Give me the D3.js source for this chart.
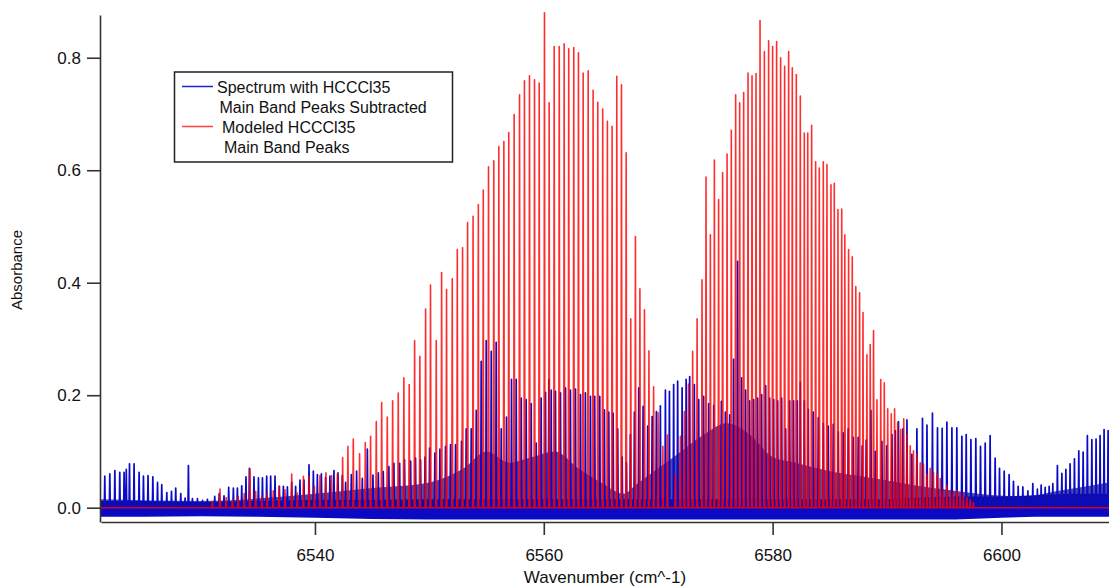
<!DOCTYPE html>
<html>
<head>
<meta charset="utf-8">
<script src="https://cdn.jsdelivr.net/npm/d3@7"></script>
<style>
  body { margin: 0; background: #fff; }
  svg text { font-family: "Liberation Sans", Arial, Helvetica, sans-serif; fill: #111; }
</style>
</head>
<body>
<svg id="spec" width="1109" height="586"></svg>
<script>
// modeled HCCCl35 main band (stick lines), wavenumber / absorbance
var redPos = [6531.04,6531.70,6532.24,6532.79,6533.29,6533.82,6534.32,6534.82,6535.35,6535.83,6536.35,6536.86,6537.38,6537.97,6538.46,6538.99,6539.48,6539.95,6540.44,6540.96,6541.46,6541.96,6542.42,6542.88,6543.35,6543.90,6544.40,6544.86,6545.36,6545.83,6546.32,6546.79,6547.28,6547.77,6548.24,6548.71,6549.17,6549.67,6550.10,6550.60,6551.07,6551.50,6552.00,6552.44,6552.90,6553.34,6553.82,6554.28,6554.71,6555.17,6555.63,6556.07,6556.51,6556.94,6557.41,6557.88,6558.31,6558.75,6559.19,6559.60,6560.06,6560.47,6560.91,6561.35,6561.78,6562.18,6562.62,6563.03,6563.44,6563.88,6564.31,6564.72,6565.15,6565.56,6565.97,6566.38,6566.79,6567.20,6567.60,6568.01,6568.40,6568.80,6569.19,6569.60,6569.99,6570.41,6570.80,
  6571.50,6571.94,6572.29,6572.64,6573.01,6573.40,6573.83,6574.18,6574.56,6574.91,6575.28,6575.63,6576.02,6576.39,6576.77,6577.12,6577.47,6577.85,6578.20,6578.55,6578.90,6579.28,6579.65,6580.00,6580.35,6580.70,6581.05,6581.40,6581.72,6582.07,6582.42,6582.77,6583.07,6583.41,6583.76,6584.08,6584.43,6584.75,6585.10,6585.39,6585.71,6586.04,6586.31,6586.64,6586.96,6587.27,6587.60,6587.90,6588.24,6588.53,6588.82,6589.12,6589.45,6589.76,6590.06,6590.37,6590.66,6590.93,6591.20,6591.46,6591.74,6592.03,6592.31,6592.61,6592.90,6593.19,6593.49,6593.77,6594.06,6594.36,6594.65,6594.93,6595.23,6595.52,6595.81,6596.10,6596.39,6596.68,6596.98,6597.27,6597.55];
var redAbs = [0.011,0.033,0.018,0.014,0.020,0.025,0.069,0.029,0.020,0.025,0.030,0.038,0.032,0.060,0.026,0.056,0.056,0.038,0.057,0.062,0.057,0.060,0.089,0.109,0.122,0.096,0.116,0.127,0.153,0.187,0.161,0.190,0.204,0.231,0.219,0.297,0.269,0.353,0.396,0.297,0.418,0.388,0.407,0.459,0.462,0.507,0.518,0.539,0.565,0.606,0.617,0.642,0.651,0.667,0.699,0.734,0.759,0.768,0.761,0.755,0.880,0.720,0.820,0.820,0.825,0.816,0.818,0.809,0.773,0.777,0.742,0.721,0.709,0.687,0.678,0.767,0.752,0.631,0.336,0.482,0.389,0.352,0.279,0.215,0.169,0.109,0.129,
  0.059,0.127,0.171,0.220,0.278,0.336,0.405,0.588,0.485,0.618,0.548,0.596,0.629,0.671,0.734,0.720,0.738,0.773,0.768,0.772,0.866,0.811,0.830,0.820,0.829,0.800,0.785,0.811,0.782,0.770,0.732,0.666,0.666,0.680,0.615,0.604,0.615,0.610,0.574,0.577,0.530,0.531,0.485,0.459,0.446,0.393,0.382,0.347,0.272,0.290,0.315,0.192,0.228,0.222,0.176,0.167,0.176,0.151,0.139,0.158,0.130,0.110,0.101,0.095,0.080,0.077,0.059,0.070,0.062,0.061,0.052,0.032,0.040,0.030,0.028,0.030,0.027,0.022,0.018,0.014,0.009];

// measured spectrum with main band peaks subtracted
var bluePos = [6521.63,6522.07,6522.51,6522.94,6523.32,6523.51,6523.79,6524.19,6524.63,6525.01,6525.41,6525.83,6526.24,6526.61,6527.05,6527.46,6527.83,6528.27,6528.65,6528.94,6529.29,6529.73,6530.17,6530.60,6531.24,6531.63,6532.05,6532.46,6532.87,6533.22,6533.60,6533.97,6534.27,6534.67,6535.06,6535.41,6535.78,6536.13,6536.51,6536.89,6537.24,6537.59,6537.97,6538.31,6538.69,6539.04,6539.48,6539.86,6540.21,6540.56,6540.93,6541.31,6541.66,6542.01,6542.39,6542.68,6543.18,6543.64,6544.14,6544.58,6545.07,6545.54,6545.97,6546.46,6546.90,6547.40,6547.83,6548.36,6548.79,6549.23,6549.62,6550.02,6550.48,6550.92,6551.41,6551.85,6552.29,6552.81,6553.22,6553.66,6554.10,6554.53,6554.97,6555.41,6555.84,6556.28,6556.74,6557.18,6557.59,6558.03,6558.46,6558.90,6559.34,6559.77,6560.15,6560.44,6560.65,6561.02,6561.46,6561.90,6562.33,6562.77,6563.21,6563.64,6564.08,6564.45,6564.89,6565.30,6565.68,6566.06,6566.46,6566.85,6567.22,6567.57,6567.92,6568.30,6568.68,6569.08,6569.47,6569.84,6570.19,6570.63,6570.98,6571.35,6571.70,6572.09,6572.44,6572.75,6573.16,6573.54,6573.97,6574.41,6574.85,6575.52,6575.87,6576.25,6576.59,6576.94,6577.29,6577.64,6577.99,6578.34,6578.69,6579.04,6579.39,6579.74,6580.09,6580.44,6580.79,6581.14,6581.49,6581.83,6582.16,6582.42,6582.77,6583.12,6583.55,6583.99,6584.43,6584.86,6585.30,6585.74,6586.17,6586.61,6587.05,6587.48,6587.83,6588.18,6588.59,6588.97,6589.55,6589.97,6590.43,6590.72,6591.00,6591.39,6591.74,6592.17,6592.61,6593.10,6593.49,6593.97,6594.41,6594.82,6595.23,6595.67,6596.10,6596.54,6596.92,6597.33,6597.76,6598.17,6598.58,6599.01,6599.45,6599.83,6600.24,6600.67,6601.05,6601.46,6601.87,6602.31,6602.74,6603.14,6603.47,6603.82,6604.17,6604.49,6604.89,6605.28,6605.63,6606.00,6606.38,6606.76,6607.14,6607.51,6607.90,6608.27,6608.62,6608.97,6609.32];
var blueAbs = [0.056,0.060,0.066,0.063,0.063,0.068,0.078,0.078,0.063,0.056,0.057,0.055,0.045,0.041,0.027,0.029,0.035,0.025,0.017,0.075,0.016,0.016,0.013,0.015,0.020,0.025,0.021,0.036,0.035,0.035,0.039,0.055,0.070,0.055,0.053,0.053,0.056,0.056,0.056,0.038,0.038,0.037,0.045,0.038,0.049,0.049,0.076,0.065,0.059,0.060,0.054,0.056,0.066,0.062,0.057,0.045,0.059,0.065,0.052,0.104,0.058,0.062,0.064,0.073,0.079,0.079,0.085,0.083,0.088,0.085,0.090,0.106,0.097,0.104,0.109,0.112,0.112,0.118,0.140,0.140,0.173,0.260,0.297,0.278,0.294,0.140,0.161,0.228,0.228,0.195,0.192,0.185,0.115,0.195,0.205,0.228,0.209,0.207,0.204,0.213,0.209,0.211,0.201,0.204,0.198,0.198,0.198,0.174,0.170,0.168,0.140,0.090,0.080,0.130,0.170,0.213,0.180,0.145,0.162,0.171,0.181,0.209,0.207,0.219,0.225,0.213,0.228,0.233,0.219,0.192,0.198,0.185,0.182,0.189,0.170,0.165,0.264,0.438,0.231,0.209,0.190,0.192,0.195,0.201,0.217,0.195,0.192,0.190,0.195,0.140,0.190,0.190,0.190,0.223,0.190,0.175,0.170,0.160,0.150,0.145,0.148,0.135,0.133,0.140,0.125,0.125,0.110,0.120,0.173,0.100,0.118,0.110,0.130,0.137,0.153,0.140,0.156,0.095,0.140,0.159,0.147,0.168,0.142,0.141,0.152,0.142,0.142,0.127,0.130,0.121,0.123,0.109,0.115,0.128,0.088,0.070,0.065,0.059,0.047,0.038,0.037,0.030,0.043,0.033,0.040,0.036,0.038,0.043,0.075,0.061,0.068,0.078,0.087,0.101,0.099,0.128,0.121,0.122,0.128,0.139,0.137];

// unresolved weaker lines under the blue peaks (envelope)
var denseX = [6521.3,6530,6540,6545,6550,6553,6555,6557,6559,6561,6563,6565,6567,6568,6570,6572,6574,6576,6578,6580,6582,6585,6588,6591,6594,6598,6602,6605,6609.4];
var denseAbs = [0.015,0.012,0.025,0.035,0.045,0.07,0.10,0.08,0.09,0.10,0.07,0.045,0.025,0.04,0.07,0.10,0.13,0.15,0.13,0.09,0.08,0.065,0.055,0.045,0.035,0.025,0.02,0.03,0.045];

// noise band around zero
var bandX = [6521.3,6525,6530,6535,6540,6545,6550,6555,6560,6565,6570,6575,6580,6585,6590,6593,6596,6600,6603,6606,6609.4];
var bandHigh = [0.012,0.012,0.010,0.012,0.014,0.014,0.015,0.015,0.015,0.015,0.015,0.015,0.015,0.015,0.015,0.018,0.020,0.020,0.022,0.025,0.025];
var bandLow = [-0.016,-0.016,-0.015,-0.016,-0.018,-0.020,-0.021,-0.021,-0.021,-0.021,-0.021,-0.021,-0.021,-0.021,-0.021,-0.021,-0.021,-0.018,-0.016,-0.016,-0.016];

var yTicks = [0, 0.2, 0.4, 0.6, 0.8];
var xTicks = [6540, 6560, 6580, 6600];

var svg = d3.select("#spec");

var x = d3.scaleLinear().domain([6521.3, 6609.4]).range([101, 1109]);
var y = d3.scaleLinear().domain([-0.0254, 0.876]).range([522, 15]);

var halfW = 0.04;

function stickPoints(pos, abs) {
  var pts = [[x.domain()[0], 0]];
  for (var i = 0; i < pos.length; i++) {
    pts.push([pos[i] - halfW, 0], [pos[i], abs[i]], [pos[i] + halfW, 0]);
  }
  pts.push([x.domain()[1], 0]);
  return pts;
}

var line = d3.line()
    .x(function(d) { return x(d[0]); })
    .y(function(d) { return y(d[1]); });

var plot = svg.append("g");

plot.append("path")
    .datum(bandX.map(function(v, i) { return [v, bandLow[i], bandHigh[i]]; }))
    .attr("fill", "#0a0ac4")
    .attr("d", d3.area()
      .x(function(d) { return x(d[0]); })
      .y0(function(d) { return y(d[1]); })
      .y1(function(d) { return y(d[2]); }));

plot.append("path")
    .datum(denseX.map(function(v, i) { return [v, denseAbs[i]]; }))
    .attr("fill", "#14108c")
    .attr("fill-opacity", 0.75)
    .attr("d", d3.area()
      .curve(d3.curveMonotoneX)
      .x(function(d) { return x(d[0]); })
      .y0(y(0))
      .y1(function(d) { return y(d[1]); }));

plot.append("path")
    .datum(stickPoints(bluePos, blueAbs))
    .attr("fill", "none")
    .attr("stroke", "#0a0ac8")
    .attr("stroke-width", 1.7)
    .attr("stroke-linejoin", "round")
    .attr("d", line);

plot.append("path")
    .datum(stickPoints(redPos, redAbs))
    .attr("fill", "none")
    .attr("stroke", "#ff0000")
    .attr("stroke-opacity", 0.82)
    .attr("stroke-width", 1.6)
    .attr("stroke-linejoin", "round")
    .attr("d", line);

// axes
var yAxis = svg.append("g")
    .attr("transform", "translate(100,0)")
    .call(d3.axisLeft(y).tickValues(yTicks).tickFormat(d3.format(".1f")).tickSize(13).tickSizeOuter(0).tickPadding(6));
var xAxis = svg.append("g")
    .attr("transform", "translate(0,522)")
    .call(d3.axisBottom(x).tickValues(xTicks).tickFormat(d3.format("d")).tickSize(13).tickSizeOuter(0).tickPadding(14));

[yAxis, xAxis].forEach(function(a) {
  a.selectAll("path, line").attr("stroke", "#333").attr("stroke-width", 1.6);
  a.selectAll("text").attr("font-size", 17).attr("fill", "#111");
});

svg.append("text")
    .attr("transform", "translate(22,270) rotate(-90)")
    .attr("text-anchor", "middle")
    .attr("font-size", 15)
    .text("Absorbance");

svg.append("text")
    .attr("x", 605)
    .attr("y", 583)
    .attr("text-anchor", "middle")
    .attr("font-size", 17)
    .text("Wavenumber (cm^-1)");

// legend
var legend = svg.append("g");
legend.append("rect")
    .attr("x", 174.5).attr("y", 72).attr("width", 278).attr("height", 90)
    .attr("fill", "#fff").attr("stroke", "#222").attr("stroke-width", 1.5);
legend.append("line").attr("x1", 182).attr("x2", 213).attr("y1", 86.5).attr("y2", 86.5)
    .attr("stroke", "#2020d0").attr("stroke-width", 1.5);
legend.append("line").attr("x1", 182).attr("x2", 213).attr("y1", 126.5).attr("y2", 126.5)
    .attr("stroke", "#ff4040").attr("stroke-width", 1.5);
var legText = [["Spectrum with HCCCl35", 217, 92.5], ["Main Band Peaks Subtracted", 219.5, 112.5],
               ["Modeled HCCCl35", 222, 132.5], ["Main Band Peaks", 224, 153]];
legText.forEach(function(t) {
  legend.append("text").attr("x", t[1]).attr("y", t[2]).attr("font-size", 16).text(t[0]);
});
</script>
</body>
</html>
